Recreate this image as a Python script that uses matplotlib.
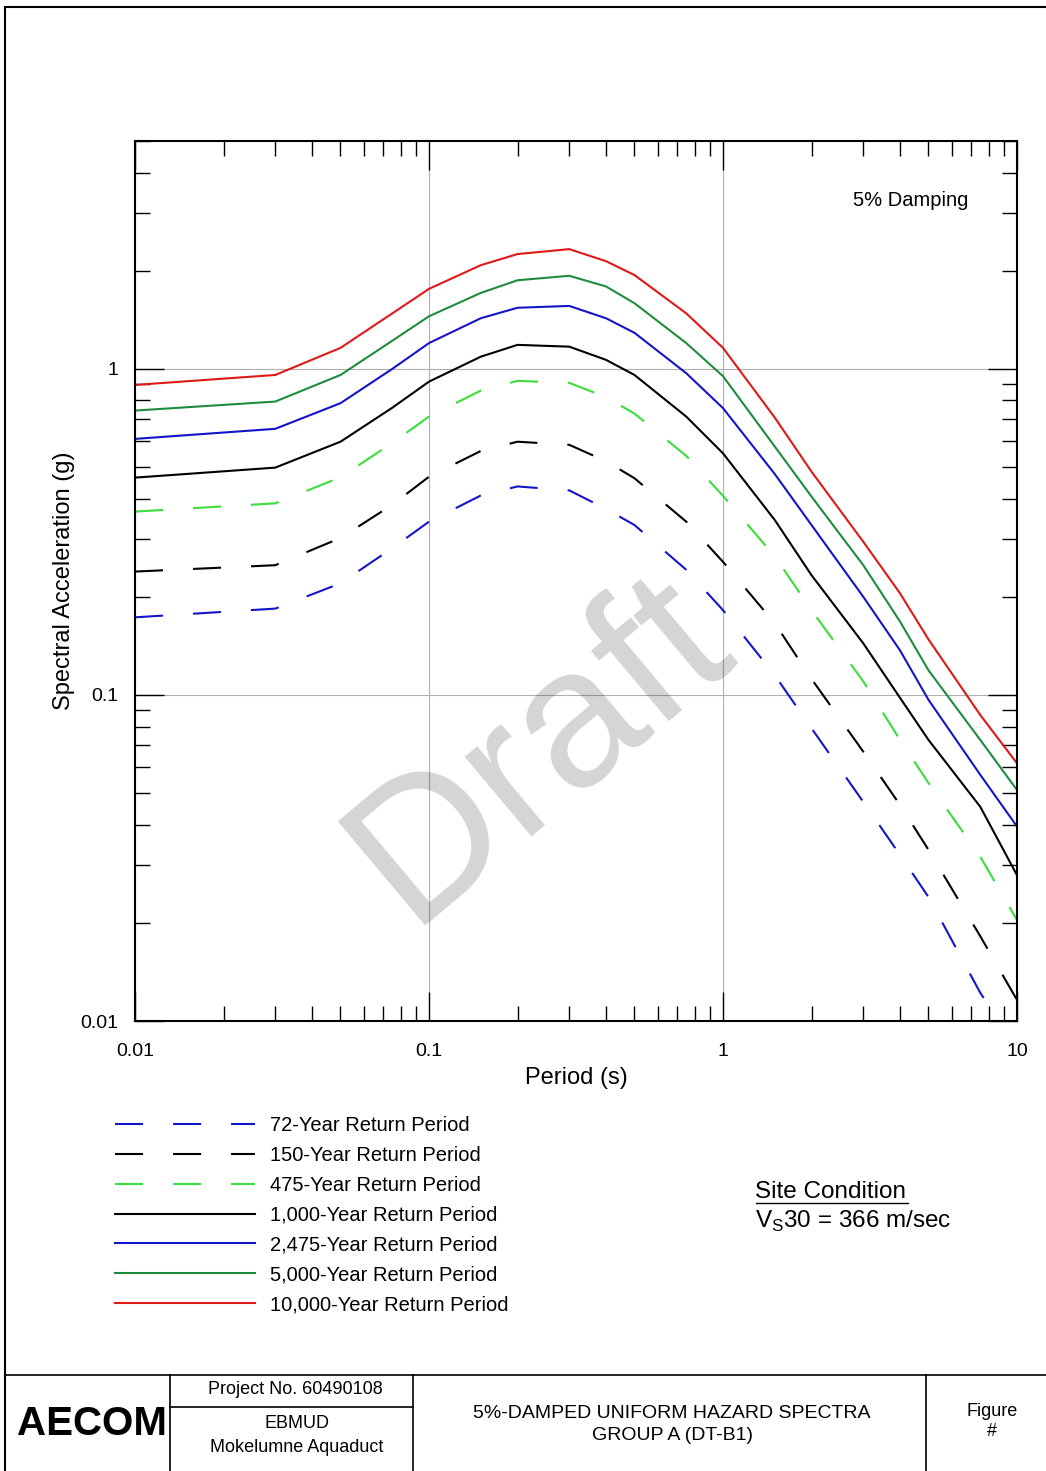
import numpy as np
import matplotlib
matplotlib.use("Agg")
import matplotlib.pyplot as plt
import matplotlib.ticker as ticker
from matplotlib.lines import Line2D
from matplotlib.patches import Rectangle

plt.rcParams['font.family'] = ['Liberation Sans', 'DejaVu Sans']
plt.rcParams['mathtext.fontset'] = 'custom'
plt.rcParams['mathtext.rm'] = 'Liberation Sans'

# periods (s) and spectral accelerations (g)
period = [0.01, 0.03, 0.05, 0.075, 0.1, 0.15, 0.2, 0.3, 0.4, 0.5, 0.75,
          1.0, 1.5, 2.0, 3.0, 4.0, 5.0, 7.5, 10.0]

sa_72    = [0.173, 0.184, 0.22, 0.282, 0.34, 0.409, 0.436, 0.424, 0.372, 0.332, 0.242,
            0.182, 0.115, 0.079, 0.047, 0.0323, 0.024, 0.0122, 0.0083]
sa_150   = [0.239, 0.25, 0.303, 0.383, 0.467, 0.56, 0.598, 0.585, 0.521, 0.462, 0.34,
            0.256, 0.166, 0.112, 0.067, 0.046, 0.0335, 0.0182, 0.0116]
sa_475   = [0.365, 0.387, 0.465, 0.593, 0.714, 0.858, 0.919, 0.906, 0.819, 0.729, 0.541,
            0.408, 0.266, 0.182, 0.11, 0.0728, 0.0537, 0.0319, 0.0204]
sa_1000  = [0.464, 0.498, 0.598, 0.76, 0.914, 1.09, 1.185, 1.17, 1.066, 0.958, 0.714,
            0.551, 0.344, 0.233, 0.144, 0.098, 0.0728, 0.0454, 0.028]
sa_2475  = [0.61, 0.655, 0.785, 1.0, 1.2, 1.43, 1.54, 1.56, 1.43, 1.29, 0.97,
            0.758, 0.476, 0.332, 0.2, 0.137, 0.0966, 0.0569, 0.0395]
sa_5000  = [0.745, 0.794, 0.958, 1.22, 1.45, 1.71, 1.87, 1.93, 1.79, 1.59, 1.2,
            0.95, 0.578, 0.406, 0.25, 0.168, 0.119, 0.0728, 0.0511]
sa_10000 = [0.893, 0.958, 1.16, 1.48, 1.76, 2.08, 2.25, 2.33, 2.14, 1.94, 1.48,
            1.16, 0.709, 0.484, 0.295, 0.205, 0.148, 0.0868, 0.0617]

seriesList = [sa_72, sa_150, sa_475, sa_1000, sa_2475, sa_5000, sa_10000]
labelList  = ["72-Year Return Period", "150-Year Return Period", "475-Year Return Period",
              "1,000-Year Return Period", "2,475-Year Return Period",
              "5,000-Year Return Period", "10,000-Year Return Period"]
colorList  = ["#1414c8", "black", "#3ade3a", "black", "#1414c8", "#1e8c3c", "#e01818"]
dashed     = [True, True, True, False, False, False, False]

W, H = 1046, 1471
def fx(px): return px / W
def fy(py): return 1 - py / H

fig = plt.figure(figsize=(W / 100, H / 100), dpi=100)
ax = fig.add_axes([fx(135), fy(1021), 882 / W, 880 / H])

lw = 1.5
for i in range(len(seriesList)):
    ls = (0, (20.2 / lw, 21.6 / lw)) if dashed[i] else '-'
    ax.plot(period, seriesList[i], color=colorList[i], lw=lw, linestyle=ls, label=labelList[i])

ax.set_xscale('log')
ax.set_yscale('log')
ax.set_xlim(0.01, 10)
ax.set_ylim(0.01, 5)

fmt = ticker.FuncFormatter(lambda v, p: '%g' % v)
ax.xaxis.set_major_formatter(fmt)
ax.yaxis.set_major_formatter(fmt)
ax.xaxis.set_minor_formatter(ticker.NullFormatter())
ax.yaxis.set_minor_formatter(ticker.NullFormatter())

ax.grid(True, which='major', color='#b0b0b0', lw=0.8)
ax.tick_params(which='major', direction='in', length=21, width=1, top=True, right=True,
               labelsize=14, pad=12)
ax.tick_params(axis='x', which='major', pad=16)
ax.tick_params(which='minor', direction='in', length=11, width=1, top=True, right=True)
for sp in ax.spines.values():
    sp.set_linewidth(1.5)

ax.set_xlabel('Period (s)', fontsize=17)
ax.set_ylabel('Spectral Acceleration (g)', fontsize=17)
ax.xaxis.set_label_coords(0.5, -0.052)
ax.yaxis.set_label_coords(-0.068, 0.5)

ax.text(0.879, 0.932, '5% Damping', transform=ax.transAxes, ha='center', va='center', fontsize=14.5)

# watermark
fig.text(fx(410), fy(925), 'Draft', rotation=40, rotation_mode='anchor', ha='left', va='baseline',
         fontsize=142, color='black', alpha=0.17, zorder=10)

handles, labels = ax.get_legend_handles_labels()
fig.legend(handles, labels, loc='upper left', bbox_to_anchor=(fx(115), fy(1116)),
           frameon=False, fontsize=14.5, handlelength=6.96, handletextpad=0.75,
           labelspacing=0.54, borderpad=0, borderaxespad=0)

# site condition note
fig.text(fx(755), fy(1192), 'Site Condition', va='center', ha='left', fontsize=17.5)
fig.add_artist(Line2D([fx(756), fx(908)], [fy(1203), fy(1203)], color='black', lw=1,
                      transform=fig.transFigure))
fig.text(fx(755), fy(1221), r'V$_\mathregular{S}$30 = 366 m/sec', va='center', ha='left', fontsize=17.5)

# page border and title block
fig.add_artist(Rectangle((fx(5), -0.01), 1.0, fy(7) + 0.01, fill=False, lw=1.5, ec='black',
                         transform=fig.transFigure))
def hline(x0, x1, y):
    fig.add_artist(Line2D([fx(x0), fx(x1)], [fy(y), fy(y)], color='black', lw=1.2, transform=fig.transFigure))
def vline(x, y0, y1):
    fig.add_artist(Line2D([fx(x), fx(x)], [fy(y0), fy(y1)], color='black', lw=1.2, transform=fig.transFigure))

hline(5, 1046, 1375)
hline(170, 413, 1407)
vline(170, 1375, 1471)
vline(413, 1375, 1471)
vline(926, 1375, 1471)

fig.text(fx(92), fy(1424), 'AECOM', ha='center', va='center', fontsize=29, fontweight='heavy')
fig.text(fx(295), fy(1390), 'Project No. 60490108', ha='center', va='center', fontsize=13)
fig.text(fx(297), fy(1424), 'EBMUD', ha='center', va='center', fontsize=13)
fig.text(fx(297), fy(1447), 'Mokelumne Aquaduct', ha='center', va='center', fontsize=13)
fig.text(fx(672), fy(1414), '5%-DAMPED UNIFORM HAZARD SPECTRA', ha='center', va='center', fontsize=14)
fig.text(fx(672), fy(1436), 'GROUP A (DT-B1)', ha='center', va='center', fontsize=14)
fig.text(fx(992), fy(1411), 'Figure', ha='center', va='center', fontsize=13)
fig.text(fx(992), fy(1432), '#', ha='center', va='center', fontsize=13)

fig.savefig('out.png', dpi=100)
